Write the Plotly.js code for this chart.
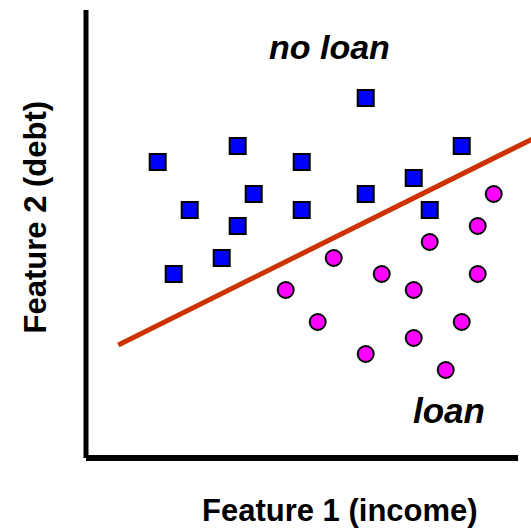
<!DOCTYPE html>
<html>
<head>
<meta charset="utf-8">
<script src="https://cdn.plot.ly/plotly-3.0.1.min.js"></script>
<style>html,body{margin:0;padding:0;background:#fff;}#chart{width:531px;height:528px;}</style>
</head>
<body>
<div id="chart"></div>
<script>
// "no loan" class (blue squares)
const noLoanX = [1, 6, 10, 14, 20, 17, 7, 14, 3, 10, 18, 6, 5, 2];
const noLoanY = [14, 15, 14, 18, 15, 13, 12, 12, 11, 11, 11, 10, 8, 7];
// "loan" class (magenta circles)
const loanX = [22, 21, 18, 12, 15, 21, 9, 17, 11, 20, 17, 14, 19];
const loanY = [12, 10, 9, 8, 7, 7, 6, 6, 4, 4, 3, 2, 1];
// decision boundary end points
const boundaryX = [-1.46, 24.5];
const boundaryY = [2.56, 15.48];

const labelFont = "Liberation Sans, Arial, Helvetica, sans-serif";

const traces = [
  {x: boundaryX, y: boundaryY, mode: "lines", type: "scatter",
   line: {color: "#CC3300", width: 5}, hoverinfo: "skip"},
  {x: noLoanX, y: noLoanY, mode: "markers", type: "scatter",
   marker: {symbol: "square", size: 16, color: "#0000FF", line: {color: "#000000", width: 2}}},
  {x: loanX, y: loanY, mode: "markers", type: "scatter",
   marker: {symbol: "circle", size: 16, color: "#FF00FF", line: {color: "#000000", width: 2}}}
];

const layout = {
  width: 531, height: 528,
  margin: {l: 86, r: 0, t: 10, b: 70, pad: 0},
  paper_bgcolor: "#ffffff", plot_bgcolor: "#ffffff",
  showlegend: false,
  xaxis: {range: [-3.48, 24.33], showgrid: false, zeroline: false, showticklabels: false, ticks: "", showline: false, fixedrange: true},
  yaxis: {range: [-4.5, 23.5], showgrid: false, zeroline: false, showticklabels: false, ticks: "", showline: false, fixedrange: true},
  shapes: [
    {type: "line", xref: "paper", yref: "paper", x0: 0, x1: 0, y0: 0.0, y1: 1, line: {color: "#000", width: 5}},
    {type: "line", xref: "paper", yref: "paper", x0: 0, x1: 0.971, y0: 0, y1: 0, line: {color: "#000", width: 6}}
  ],
  annotations: [
    {text: "<b><i>no loan</i></b>", xref: "paper", yref: "paper", x: 0.547, y: 0.9185, xanchor: "center", yanchor: "middle", showarrow: false, font: {family: labelFont, size: 34, color: "#000"}},
    {text: "<b><i>loan</i></b>", xref: "paper", yref: "paper", x: 0.816, y: 0.1056, xanchor: "center", yanchor: "middle", showarrow: false, font: {family: labelFont, size: 35, color: "#000"}},
    {text: "<b>Feature 1 (income)</b>", xref: "paper", yref: "paper", x: 0.571, y: -0.117, xanchor: "center", yanchor: "middle", showarrow: false, font: {family: labelFont, size: 31, color: "#000"}},
    {text: "<b>Feature 2 (debt)</b>", xref: "paper", yref: "paper", x: -0.1146, y: 0.537, xanchor: "center", yanchor: "middle", textangle: -90, showarrow: false, font: {family: labelFont, size: 31, color: "#000"}}
  ]
};

Plotly.newPlot("chart", traces, layout, {staticPlot: true, displayModeBar: false});
</script>
</body>
</html>
